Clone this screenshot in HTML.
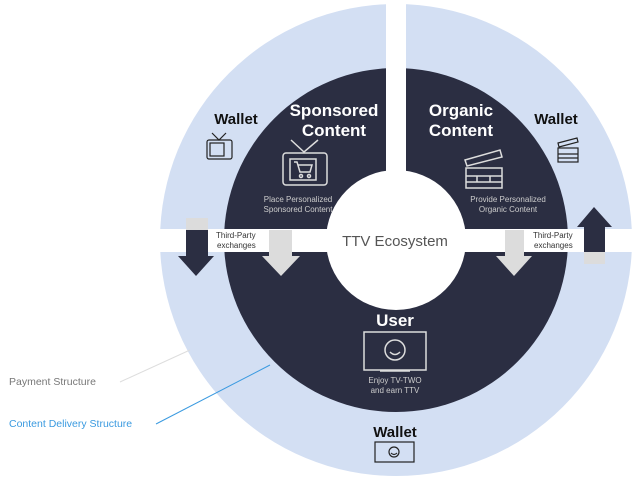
<!DOCTYPE html>
<html><head><style>body{margin:0;background:#fff}svg{display:block}text{font-family:"Liberation Sans",sans-serif}</style></head>
<body>
<svg width="635" height="485" viewBox="0 0 635 485">
<circle cx="396" cy="240" r="236" fill="#d3dff3"/>
<circle cx="396" cy="240" r="172" fill="#2b2e42"/>
<circle cx="396" cy="240" r="70" fill="#fff"/>
<rect x="386" y="0" width="20" height="180" fill="#fff"/>
<rect x="160" y="229" width="475" height="23" fill="#fff"/>
<rect x="186" y="218" width="22" height="12" fill="#dcdcdc"/>
<path d="M186 230H208V256H214L196 276L178 256H186Z" fill="#2b2e42"/>
<path d="M269 230H292V256H300L281 276L262 256H269Z" fill="#dcdcdc"/>
<path d="M505 230H524V256H532L514 276L496 256H505Z" fill="#dcdcdc"/>
<rect x="584" y="252" width="21" height="12" fill="#dcdcdc"/>
<path d="M584 252H605V227H612L594 207L577 227H584Z" fill="#2b2e42"/>
<text x="216" y="238" font-size="8" fill="#333">Third-Party</text>
<text x="217" y="248" font-size="8" fill="#333">exchanges</text>
<text x="533" y="238" font-size="8" fill="#333">Third-Party</text>
<text x="534" y="248" font-size="8" fill="#333">exchanges</text>
<text x="395" y="246" font-size="15" fill="#555" text-anchor="middle">TTV Ecosystem</text>
<g fill="#fff" font-weight="bold" font-size="17" text-anchor="middle">
<text x="334" y="116">Sponsored</text><text x="334" y="136">Content</text>
<text x="461" y="116">Organic</text><text x="461" y="136">Content</text>
<text x="395" y="326">User</text></g>
<g fill="#111" font-weight="bold" font-size="15" text-anchor="middle">
<text x="236" y="124">Wallet</text><text x="556" y="124">Wallet</text><text x="395" y="437">Wallet</text></g>
<g fill="#ccc" font-size="8" text-anchor="middle">
<text x="298" y="202">Place Personalized</text><text x="298" y="212">Sponsored Content</text>
<text x="508" y="202">Provide Personalized</text><text x="508" y="212">Organic Content</text>
<text x="395" y="383">Enjoy TV-TWO</text><text x="395" y="393">and earn TTV</text></g>
<g stroke="#ddd" fill="none" stroke-width="1.5">
<path d="M291 140L304 152L318 140"/><rect x="283" y="153" width="44" height="32" rx="3"/><rect x="290" y="159" width="26" height="21"/>
<path d="M294 162h3l3 10h10l2-7h-14"/><circle cx="301" cy="176" r="1.5"/><circle cx="309" cy="176" r="1.5"/>
<path d="M465 160L500 150L502 157L467 166Z"/><rect x="466" y="168" width="36" height="20"/><path d="M466 176h36M466 182h36M477 176v6M490 176v6"/>
<rect x="364" y="332" width="62" height="38"/><path d="M380 371h30"/><circle cx="395" cy="350" r="10"/><path d="M390 352q5 5 10 0"/>
</g>
<g stroke="#222" fill="none" stroke-width="1.2">
<path d="M212 133L219 140L226 133"/><rect x="207" y="140" width="25" height="19" rx="2"/><rect x="210" y="143" width="14" height="13"/>
<path d="M558 143L577 138L578 142L559 147Z"/><rect x="558" y="148" width="20" height="14"/><path d="M558 154h20M558 158h20"/>
<rect x="375" y="442" width="39" height="20"/><circle cx="394" cy="452" r="5"/><path d="M391 453q3 3 6 0"/>
</g>
<line x1="120" y1="382" x2="190" y2="350" stroke="#ddd"/>
<line x1="156" y1="424" x2="270" y2="365" stroke="#3a9ae0"/>
<text x="9" y="385" font-size="10.5" fill="#777">Payment Structure</text>
<text x="9" y="427" font-size="10.5" fill="#3a9ae0">Content Delivery Structure</text>
</svg>
</body></html>
